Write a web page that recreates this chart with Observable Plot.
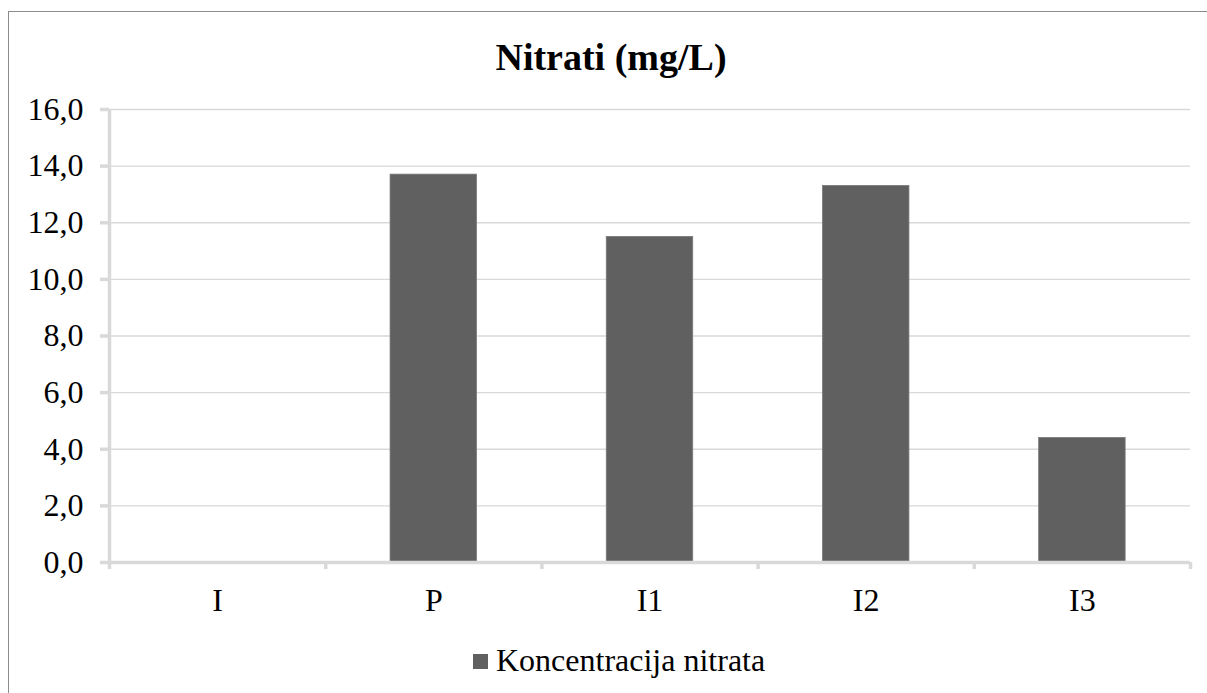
<!DOCTYPE html>
<html>
<head>
<meta charset="utf-8">
<script src="https://cdn.jsdelivr.net/npm/d3@7"></script>
<script src="https://cdn.jsdelivr.net/npm/@observablehq/plot@0.6"></script>
<style>
  html, body { margin: 0; padding: 0; background: #fff; overflow: hidden; }
  body { width: 1207px; height: 693px; position: relative; font-family: "Liberation Serif", "Times New Roman", serif; }
  #frame { position: absolute; left: 8px; top: 11px; width: 1300px; height: 800px; border: 1.5px solid #8c8c8c; box-sizing: border-box; }
  #title { position: absolute; left: 0; width: 1222px; top: 37px; text-align: center; font-weight: bold; font-size: 38px; line-height: 40px; color: #000; font-family: "Liberation Serif", serif; }
  #chart { position: absolute; left: 0; top: 90px; }
  #legend { position: absolute; left: 473px; top: 642px; font-size: 32px; line-height: 36px; color: #000; display: flex; align-items: center; font-family: "Liberation Serif", serif; }
  #legend .sw { width: 15px; height: 15px; background: #606060; margin-right: 8px; margin-top: 2px; }
</style>
</head>
<body>
<div id="frame"></div>
<div id="title">Nitrati (mg/L)</div>
<div id="chart"></div>
<div id="legend"><span class="sw"></span><span id="legendText"></span></div>
<script>
const categories = ["I", "P", "I1", "I2", "I3"];
const values = [0, 13.7, 11.5, 13.3, 4.4];
const yTicks = [0, 2, 4, 6, 8, 10, 12, 14, 16];
const seriesName = "Koncentracija nitrata";

document.getElementById("legendText").textContent = seriesName;

const data = categories.map((c, i) => ({category: c, index: i, value: values[i]}));
const boundaries = d3.range(categories.length + 1);
const centers = categories.map((c, i) => i + 0.5);
const fmt = d => d.toFixed(1).replace(".", ",");

const grid = "#d9d9d9";

const chart = Plot.plot({
  width: 1207,
  height: 550,
  marginTop: 19,
  marginBottom: 78,
  marginLeft: 109,
  marginRight: 17,
  style: {fontFamily: "'Liberation Serif', 'Times New Roman', serif", fontSize: "32px", color: "#000", background: "transparent"},
  x: {domain: [0, categories.length]},
  y: {domain: [0, 16]},
  marks: [
    Plot.gridY(yTicks.slice(1), {stroke: grid, strokeOpacity: 1, strokeWidth: 1.3}),
    Plot.rectY(data, {x1: d => d.index + 0.3, x2: d => d.index + 0.7, y: "value", fill: "#606060", stroke: "#7a7a7a", strokeWidth: 0.8}),
    Plot.ruleY([0], {stroke: grid, strokeWidth: 3.5}),
    Plot.ruleX([0], {stroke: grid, strokeWidth: 3.5}),
    Plot.axisY({ticks: yTicks, tickFormat: fmt, tickSize: 9, tickPadding: 17, stroke: grid, strokeWidth: 3.5, label: null, fill: "#000", fontFamily: "Liberation Serif", fontSize: 32}),
    Plot.axisX({ticks: boundaries, tickFormat: () => "", tickSize: 7, stroke: grid, strokeWidth: 3.5, label: null}),
    Plot.axisX({ticks: centers, tickFormat: v => categories[Math.floor(v)], tickSize: 0, tickPadding: 26, label: null, fill: "#000", fontFamily: "Liberation Serif", fontSize: 32})
  ]
});
document.getElementById("chart").appendChild(chart);
</script>
</body>
</html>
